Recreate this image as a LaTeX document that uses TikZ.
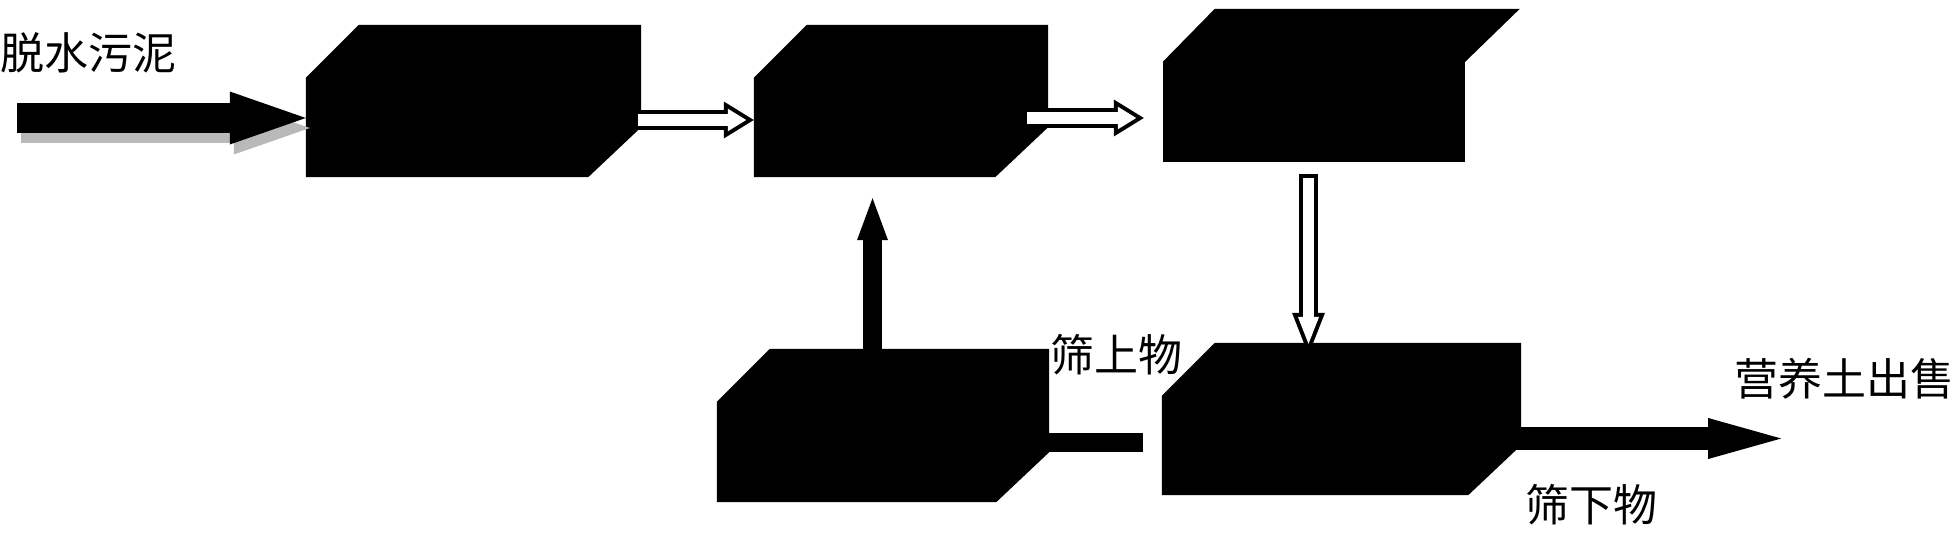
\documentclass[tikz,border=0pt]{standalone}
\usepackage{fontspec}
\newfontfamily\cjk{Noto Sans CJK SC}
\usetikzlibrary{arrows.meta}

\begin{document}
\begin{tikzpicture}[x=1pt,y=-1pt]
\tikzstyle{unit}=[inner sep=0pt, minimum height=152pt]
\tikzstyle{word}=[font=\cjk\fontsize{44}{48}\selectfont, inner sep=0pt, anchor=base west]
\tikzstyle{feed}=[line width=30pt, -{Triangle[length=76pt,width=53pt,line width=0pt]}]
\tikzstyle{pipe}=[line width=19pt, -{Triangle[length=42pt,width=31pt,line width=0pt]}]
\tikzstyle{sale}=[line width=23pt, -{Triangle[length=73pt,width=41pt,line width=0pt]}]
\tikzstyle{rimh}=[line width=20pt, -{Triangle[length=30pt,width=37pt,line width=0pt]}]
\tikzstyle{coreh}=[white, line width=12pt, shorten <=4pt, shorten >=7.6pt, -{Triangle[length=18.4pt,width=22.6pt,line width=0pt]}]
\tikzstyle{rimv}=[line width=19pt, -{Triangle[length=42pt,width=33pt,line width=0pt]}]
\tikzstyle{corev}=[white, line width=11pt, shorten <=4pt, shorten >=11pt, -{Triangle[length=27pt,width=21.2pt,line width=0pt]}]

\useasboundingbox (0,0) rectangle (1960,535);

% units
\node[unit, minimum width=335pt] (b1) at (473.5,101) {};
\node[unit, minimum width=294pt] (b2) at (901,101) {};
\node[fill, inner sep=0pt, minimum width=302pt, minimum height=100pt] (b3) at (1314,112) {};
\fill (b3.north west) -- ++(52,-53) -- ++(305,0) -- (b3.north east) -- cycle;
\node[unit, minimum width=332pt, minimum height=153pt] (b4) at (883,425.5) {};
\node[unit, minimum width=359pt] (b5) at (1341.5,419) {};
\foreach \b in {b1,b2,b4,b5}
  \fill ([yshift=-53pt]\b.north west) -- ([xshift=53pt]\b.north west) -- (\b.north east)
    -- ([yshift=50pt]\b.south east) -- ([xshift=-53pt]\b.south east) -- (\b.south west) -- cycle;

% labels
\node[word] (t1) at (0,70) {脱水污泥};
\node[word] (t2) at (1050,371) {筛上物};
\node[word] (t3) at (1734,395) {营养土出售};
\node[word] (t4) at (1525,521) {筛下物};

% feed
\coordinate (in) at (17,118);
\draw[feed, gray!55, transform canvas={shift={(4pt,-10pt)}}] (in) -- (in -| b1.west);
\draw[feed] (in) -- (in -| b1.west);

% hollow arrows
\coordinate (a1) at ([xshift=-7pt,yshift=-19pt]b1.east);
\coordinate (a1e) at (a1 -| b2.west);
\draw[rimh] (a1) -- (a1e);
\draw[coreh] (a1) -- (a1e);
\coordinate (a2) at ([xshift=-25pt,yshift=-17pt]b2.east);
\coordinate (a2e) at (a2 -| b3.west);
\draw[rimh] (a2) -- ([xshift=-19pt]a2e);
\draw[coreh] (a2) -- ([xshift=-19pt]a2e);
\coordinate (v1) at ([xshift=-5.5pt,yshift=-12pt]b3.south);
\coordinate (v2) at (v1 |- b5.north);
\draw[rimv] (v1) -- ([yshift=-12pt]v2);
\draw[corev] (v1) -- ([yshift=-12pt]v2);

% black arrows
\coordinate (u1) at ([xshift=-10.5pt]b4.north);
\coordinate (u2) at (u1 |- b2.south);
\draw[pipe] (u1) -- ([yshift=-21pt]u2);
\coordinate (r1) at ([xshift=-19pt,yshift=-23.5pt]b5.west);
\coordinate (r2) at (r1 -| b4.east);
\draw[pipe] (r1) -- ([xshift=-48pt]r2);
\coordinate (s1) at ([xshift=-10pt,yshift=-19.5pt]b5.east);
\draw[sale] (s1) -- ([xshift=270pt]s1);
\end{tikzpicture}
\end{document}
